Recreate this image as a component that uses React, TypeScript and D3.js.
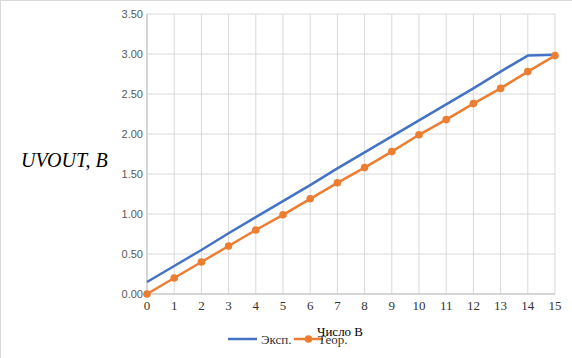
import React from "react";
import * as d3 from "d3";

const xValues = [0, 1, 2, 3, 4, 5, 6, 7, 8, 9, 10, 11, 12, 13, 14, 15];
const expValues = [0.15, 0.35, 0.55, 0.76, 0.96, 1.16, 1.36, 1.57, 1.77, 1.97, 2.17, 2.37, 2.57, 2.78, 2.98, 2.99];
const teorValues = [0, 0.2, 0.4, 0.6, 0.8, 0.99, 1.19, 1.39, 1.58, 1.78, 1.99, 2.18, 2.38, 2.57, 2.78, 2.98];
const yTicks = [0, 0.5, 1, 1.5, 2, 2.5, 3, 3.5];
const seriesNames = ["Эксп.", "Теор."];
const xTitle = "Число В";
const yTitle = "UVOUT, B";

const W = 572, H = 358;
const x = d3.scaleLinear().domain([0, 15]).range([147, 555]);
const y = d3.scaleLinear().domain([0, 3.5]).range([294, 14]);
const BLUE = "#4472C4";
const ORANGE = "#ED7D31";
const SERIF = "'Liberation Serif', 'Times New Roman', Times, serif";

export default function App() {
  const line = d3.line<number>().x((_, i) => x(xValues[i])).y((d) => y(d));
  return (
    <svg width={W} height={H} style={{ position: "absolute", left: 0, top: 0, background: "#fff" }}>
      <line x1={0.5} y1={0} x2={0.5} y2={H} stroke="#d9d9d9" />
      <line x1={0} y1={0.5} x2={W} y2={0.5} stroke="#d9d9d9" />
      {xValues.map((v) => (
        <line key={"gx" + v} x1={x(v)} x2={x(v)} y1={y(3.5)} y2={y(0)} stroke="#d9d9d9" strokeWidth={1} />
      ))}
      {yTicks.map((v) => (
        <line key={"gy" + v} x1={x(0)} x2={x(15)} y1={y(v)} y2={y(v)} stroke="#d9d9d9" strokeWidth={1} />
      ))}
      <line x1={x(0)} x2={x(0)} y1={y(3.5)} y2={y(0)} stroke="#bfbfbf" />
      <line x1={x(0)} x2={x(15)} y1={y(0)} y2={y(0)} stroke="#bfbfbf" />
      {yTicks.map((v) => (
        <text key={"ty" + v} x={143} y={y(v)} dy="0.35em" textAnchor="end"
          fontFamily="'Liberation Sans', Arial, sans-serif" fontSize={11} fill="#595959">
          {v.toFixed(2)}
        </text>
      ))}
      {xValues.map((v) => (
        <text key={"tx" + v} x={x(v)} y={305} dy="0.35em" textAnchor="middle"
          fontFamily={SERIF} fontSize={13} fill="#333">
          {v}
        </text>
      ))}
      <path d={line(expValues) || ""} fill="none" stroke={BLUE} strokeWidth={2.5} strokeLinejoin="round" />
      <path d={line(teorValues) || ""} fill="none" stroke={ORANGE} strokeWidth={2.5} strokeLinejoin="round" />
      {teorValues.map((v, i) => (
        <circle key={"m" + i} cx={x(xValues[i])} cy={y(v)} r={3.8} fill={ORANGE} />
      ))}
      <text x={21} y={160} dy="0.35em" fontFamily={SERIF}
        fontStyle="italic" fontSize={20} fill="#000">
        {yTitle}
      </text>
      <text x={340} y={331} dy="0.35em" textAnchor="middle"
        fontFamily={SERIF} fontSize={13} fill="#000">
        {xTitle}
      </text>
      <line x1={228} x2={257} y1={339} y2={339} stroke={BLUE} strokeWidth={2.5} />
      <text x={261} y={339} dy="0.35em" fontFamily={SERIF} fontSize={13} fill="#333">
        {seriesNames[0]}
      </text>
      <line x1={294} x2={323} y1={339} y2={339} stroke={ORANGE} strokeWidth={2.5} />
      <circle cx={308.5} cy={339} r={3.8} fill={ORANGE} />
      <text x={318} y={339} dy="0.35em" fontFamily={SERIF} fontSize={13} fill="#333">
        {seriesNames[1]}
      </text>
    </svg>
  );
}
